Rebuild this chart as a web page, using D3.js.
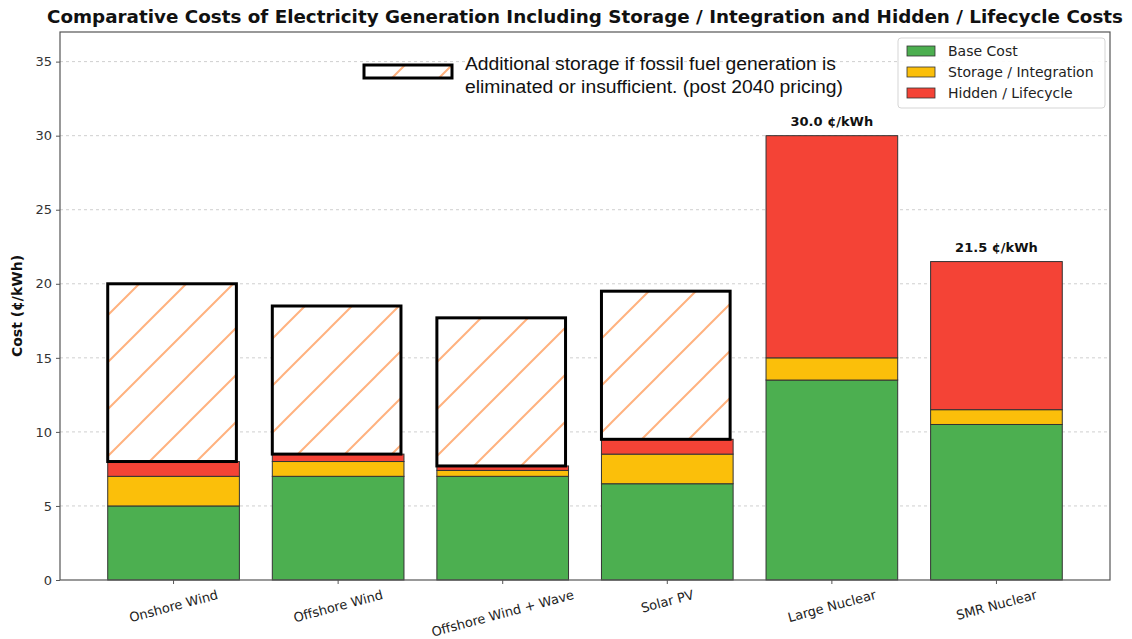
<!DOCTYPE html>
<html>
<head>
<meta charset="utf-8">
<script src="https://cdn.jsdelivr.net/npm/d3@7"></script>
<style>
  body { margin: 0; background: #fff; }
  text { font-family: "DejaVu Sans", sans-serif; }
</style>
</head>
<body>
<svg width="1132" height="639"></svg>
<script>
var categories = ["Onshore Wind", "Offshore Wind", "Offshore Wind + Wave", "Solar PV", "Large Nuclear", "SMR Nuclear"];
var baseCost = [5, 7, 7, 6.5, 13.5, 10.5];
var storageCost = [2, 1, 0.4, 2, 1.5, 1];
var hiddenCost = [1, 0.5, 0.3, 1, 15, 10];
var extraStorage = [12, 10, 10, 10, 0, 0];
var seriesNames = ["Base Cost", "Storage / Integration", "Hidden / Lifecycle"];
var seriesColors = ["#4caf50", "#fbbf0a", "#f44336"];
var yTicks = [0, 5, 10, 15, 20, 25, 30, 35];

var padL = 60, padR = 1110, padT = 32, padB = 580;

var svg = d3.select("svg");

var defs = svg.append("defs");
var pat = defs.append("pattern")
    .attr("id", "hatch")
    .attr("patternUnits", "userSpaceOnUse")
    .attr("width", 47)
    .attr("height", 47);
pat.append("rect").attr("width", 47).attr("height", 47).attr("fill", "#fff");
pat.append("path")
    .attr("d", "M0,47 L47,0 M-10,10 L10,-10 M37,57 L57,37")
    .attr("stroke", "#ffb27f")
    .attr("stroke-width", 2);

var x = d3.scaleBand()
    .domain(categories)
    .range([padL, padR])
    .paddingInner(0.2)
    .paddingOuter(0.29);

var y = d3.scaleLinear()
    .domain([0, 37])
    .range([padB, padT]);

// grid
svg.append("g")
  .selectAll("line")
  .data(yTicks.filter(d => d > 0))
  .enter()
  .append("line")
    .attr("x1", padL)
    .attr("x2", padR)
    .attr("y1", d => y(d))
    .attr("y2", d => y(d))
    .attr("stroke", "#cfcfcf")
    .attr("stroke-dasharray", "3,3");

// stacked bars
var rows = categories.map((c, i) => ({
  cat: c,
  base: baseCost[i],
  storage: storageCost[i],
  hidden: hiddenCost[i],
  extra: extraStorage[i]
}));
var stack = d3.stack().keys(["base", "storage", "hidden"])(rows);

svg.append("g")
  .selectAll("g")
  .data(stack)
  .enter()
  .append("g")
    .attr("fill", (d, i) => seriesColors[i])
  .selectAll("rect")
  .data(d => d)
  .enter()
  .append("rect")
    .attr("x", d => x(d.data.cat))
    .attr("y", d => y(d[1]))
    .attr("width", x.bandwidth())
    .attr("height", d => y(d[0]) - y(d[1]))
    .attr("stroke", "#333")
    .attr("stroke-width", 1);

// additional storage boxes
svg.append("g")
  .selectAll("rect")
  .data(rows.filter(d => d.extra > 0))
  .enter()
  .append("rect")
    .attr("x", d => x(d.cat))
    .attr("y", d => y(d.base + d.storage + d.hidden + d.extra))
    .attr("width", x.bandwidth() - 3)
    .attr("height", d => y(0) - y(d.extra))
    .attr("fill", "url(#hatch)")
    .attr("stroke", "#000")
    .attr("stroke-width", 3);

// total labels
svg.append("g")
  .selectAll("text")
  .data(rows.filter(d => d.extra === 0))
  .enter()
  .append("text")
    .attr("x", d => x(d.cat) + x.bandwidth() / 2)
    .attr("y", d => y(d.base + d.storage + d.hidden) - 10)
    .attr("text-anchor", "middle")
    .attr("font-size", 13)
    .attr("font-weight", "bold")
    .attr("fill", "#111")
    .text(d => (d.base + d.storage + d.hidden).toFixed(1) + " ¢/kWh");

// frame
svg.append("rect")
    .attr("x", padL)
    .attr("y", padT)
    .attr("width", padR - padL)
    .attr("height", padB - padT)
    .attr("fill", "none")
    .attr("stroke", "#555")
    .attr("stroke-width", 1.2);

// y axis
var yAxis = d3.axisLeft(y).tickValues(yTicks).tickSize(4).tickPadding(4);
var gy = svg.append("g")
    .attr("transform", "translate(" + padL + ",0)")
    .call(yAxis);
gy.select(".domain").remove();
gy.selectAll("text").attr("font-size", 13).attr("fill", "#333").style("font-family", "DejaVu Sans");
gy.selectAll("line").attr("stroke", "#555");

// x axis
var xAxis = d3.axisBottom(x).tickSize(4).tickFormat("");
var gx = svg.append("g")
    .attr("transform", "translate(0," + padB + ")")
    .call(xAxis);
gx.select(".domain").remove();
gx.selectAll("line").attr("stroke", "#555");

var xl = svg.append("g")
  .selectAll("text")
  .data(categories)
  .enter()
  .append("text")
    .attr("font-size", 13)
    .attr("fill", "#222")
    .attr("text-anchor", "middle")
    .attr("dy", "0.35em")
    .text(d => d);
var ang = 15 * Math.PI / 180;
xl.attr("transform", function(d) {
  var w = this.getComputedTextLength();
  var H = w * Math.sin(ang) + 15 * Math.cos(ang);
  return "translate(" + (x(d) + x.bandwidth() / 2) + "," + (padB + 7 + H / 2) + ") rotate(-15)";
});

// y label
svg.append("text")
    .attr("transform", "translate(22," + ((padT + padB) / 2) + ") rotate(-90)")
    .attr("text-anchor", "middle")
    .attr("font-size", 14)
    .attr("font-weight", "bold")
    .attr("fill", "#111")
    .text("Cost (¢/kWh)");

// title
svg.append("text")
    .attr("x", 585)
    .attr("y", 23)
    .attr("text-anchor", "middle")
    .attr("font-size", 17)
    .attr("font-weight", "bold")
    .attr("fill", "#111")
    .attr("textLength", 1076)
    .attr("lengthAdjust", "spacingAndGlyphs")
    .text("Comparative Costs of Electricity Generation Including Storage / Integration and Hidden / Lifecycle Costs");

// annotation
svg.append("rect")
    .attr("x", 364)
    .attr("y", 65)
    .attr("width", 88)
    .attr("height", 13)
    .attr("fill", "url(#hatch)")
    .attr("stroke", "#000")
    .attr("stroke-width", 3);
var ann = svg.append("text")
    .attr("x", 465)
    .attr("y", 70)
    .attr("font-size", 18)
    .attr("fill", "#111")
    .style("font-family", "Liberation Sans, Arial, sans-serif");
ann.append("tspan").attr("x", 465).attr("textLength", 371).attr("lengthAdjust", "spacingAndGlyphs")
    .text("Additional storage if fossil fuel generation is");
ann.append("tspan").attr("x", 465).attr("dy", 23).attr("textLength", 378).attr("lengthAdjust", "spacingAndGlyphs")
    .text("eliminated or insufficient. (post 2040 pricing)");

// legend
var lg = svg.append("g").attr("transform", "translate(898,38)");
lg.append("rect")
    .attr("width", 207)
    .attr("height", 70)
    .attr("rx", 3)
    .attr("fill", "#fff")
    .attr("fill-opacity", 0.9)
    .attr("stroke", "#d5d5d5");
var items = lg.selectAll("g")
  .data(seriesNames)
  .enter()
  .append("g")
    .attr("transform", (d, i) => "translate(9," + (13 + i * 21) + ")");
items.append("rect")
    .attr("y", -5)
    .attr("width", 28)
    .attr("height", 10)
    .attr("fill", (d, i) => seriesColors[i])
    .attr("stroke", "#333")
    .attr("stroke-width", 0.8);
items.append("text")
    .attr("x", 41)
    .attr("dy", "0.35em")
    .attr("font-size", 14)
    .attr("fill", "#222")
    .text(d => d);
</script>
</body>
</html>
